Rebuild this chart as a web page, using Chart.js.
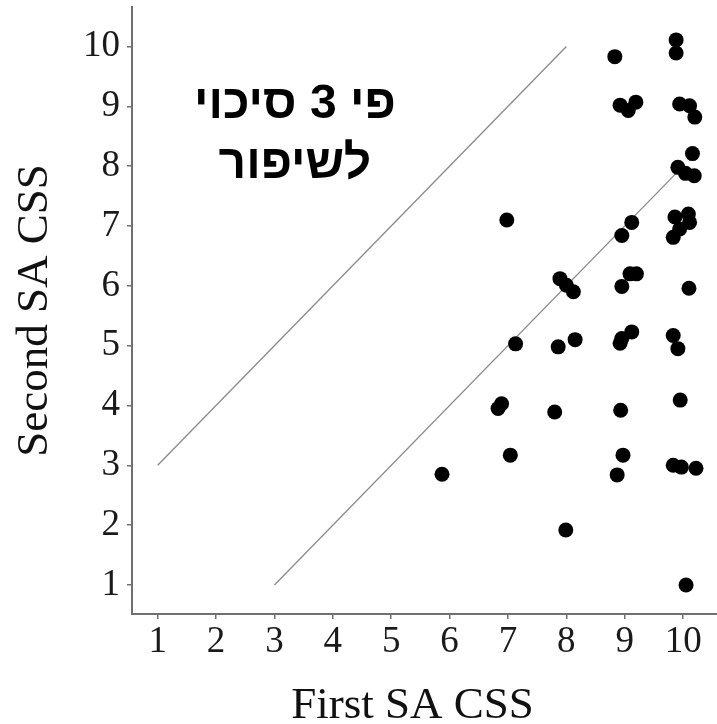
<!DOCTYPE html>
<html>
<head>
<meta charset="utf-8">
<script src="https://cdn.jsdelivr.net/npm/chart.js@4/dist/chart.umd.min.js"></script>
<style>
  html, body { margin: 0; padding: 0; background: #ffffff; }
  #wrap { width: 717px; height: 724px; position: relative; }
</style>
</head>
<body>
<div id="wrap"><canvas id="c"></canvas></div>
<script>
// ---- data ----
const firstSA = [
  5.87, 6.98, 6.83, 6.89, 7.04, 7.13, 7.80, 7.86, 7.99, 7.89,
  8.00, 8.12, 8.15, 8.83, 8.92, 9.06, 9.19, 9.12, 8.95, 9.09,
  9.20, 8.95, 8.95, 9.12, 8.92, 8.93, 8.97, 8.87, 9.88, 9.88,
  9.94, 10.11, 10.20, 10.16, 9.91, 10.04, 10.19, 9.86, 10.09, 10.11,
  9.83, 9.94, 10.10, 9.83, 9.91, 9.95, 9.83, 9.97, 10.22, 10.05
];
const secondSA = [
  2.85, 7.10, 3.95, 4.03, 3.17, 5.03, 3.89, 4.98, 1.92, 6.12,
  6.01, 5.90, 5.10, 9.83, 9.02, 8.93, 9.07, 7.06, 6.84, 6.20,
  6.20, 5.99, 5.12, 5.23, 5.04, 3.92, 3.17, 2.84, 10.11, 9.89,
  9.04, 9.01, 8.82, 8.21, 7.98, 7.88, 7.84, 7.15, 7.20, 7.06,
  6.81, 6.95, 5.96, 5.17, 4.95, 4.09, 3.00, 2.97, 2.95, 1.00
];
const upperLineX = [1, 8];
const upperLineY = [3, 10];
const lowerLineX = [3, 10];
const lowerLineY = [1, 8];
const xTicks = [1, 2, 3, 4, 5, 6, 7, 8, 9, 10];
const yTicks = [1, 2, 3, 4, 5, 6, 7, 8, 9, 10];
const xTitle = "First SA CSS";
const yTitle = "Second SA CSS";
const noteLines = ["פי 3 סיכוי", "לשיפור"];
const noteAnchor = [3.35, 8.8]; // data coords for first-line baseline centre

const toPts = (xs, ys) => xs.map((x, i) => ({ x: x, y: ys[i] }));

const serif = "'Liberation Serif', 'Times New Roman', 'DejaVu Serif', serif";
const axisColor = '#707070';

const textPlugin = {
  id: 'texts',
  afterDraw(chart) {
    const ctx = chart.ctx;
    const xs = chart.scales.x, ys = chart.scales.y;
    const area = chart.chartArea;
    ctx.save();
    // annotation
    const cx = xs.getPixelForValue(noteAnchor[0]);
    const by = ys.getPixelForValue(noteAnchor[1]);
    ctx.fillStyle = '#000';
    ctx.font = "bold 48px 'Liberation Sans', Arial, 'DejaVu Sans', sans-serif";
    ctx.textAlign = 'center';
    ctx.textBaseline = 'alphabetic';
    ctx.direction = 'rtl';
    noteLines.forEach((t, i) => ctx.fillText(t, cx, by + i * 60));
    // x axis title
    ctx.direction = 'ltr';
    ctx.fillStyle = '#111';
    ctx.font = "45px " + serif;
    ctx.textAlign = 'center';
    ctx.textBaseline = 'alphabetic';
    ctx.fillText(xTitle, (area.left + area.right) / 2 - 12, chart.height - 6);
    ctx.restore();
  }
};

new Chart(document.getElementById('c'), {
  type: 'scatter',
  data: {
    datasets: [
      {
        data: toPts(firstSA, secondSA),
        backgroundColor: '#000',
        borderColor: '#000',
        borderWidth: 0,
        pointRadius: 7.5,
        pointHoverRadius: 7.5
      },
      {
        data: toPts(upperLineX, upperLineY),
        showLine: true,
        borderColor: '#8a8a8a',
        borderWidth: 1.3,
        pointRadius: 0,
        fill: false
      },
      {
        data: toPts(lowerLineX, lowerLineY),
        showLine: true,
        borderColor: '#8a8a8a',
        borderWidth: 1.3,
        pointRadius: 0,
        fill: false
      }
    ]
  },
  options: {
    responsive: true,
    maintainAspectRatio: false,
    animation: false,
    layout: { autoPadding: false, padding: { top: 7, right: 0, left: 0, bottom: 0 } },
    plugins: { legend: { display: false }, tooltip: { enabled: false } },
    scales: {
      x: {
        type: 'linear',
        min: 0.56,
        max: 10.58,
        afterBuildTicks(s) { s.ticks = xTicks.map(v => ({ value: v })); },
        afterFit(s) { s.height = 110; s.paddingLeft = 0; s.paddingRight = 0; },
        grid: { display: true, drawOnChartArea: false, drawTicks: true, tickLength: 5, color: axisColor, lineWidth: 1.5 },
        border: { display: true, color: axisColor, width: 2 },
        ticks: { color: '#1a1a1a', font: { family: serif, size: 37 }, padding: 1, maxRotation: 0, autoSkip: false },
        title: { display: false, text: xTitle }
      },
      y: {
        type: 'linear',
        min: 0.515,
        max: 10.66,
        afterBuildTicks(s) { s.ticks = yTicks.map(v => ({ value: v })); },
        afterFit(s) { s.width = 132; s.paddingTop = 0; s.paddingBottom = 0; },
        grid: { display: true, drawOnChartArea: false, drawTicks: true, tickLength: 5, color: axisColor, lineWidth: 1.5 },
        border: { display: true, color: axisColor, width: 2 },
        ticks: { color: '#1a1a1a', font: { family: serif, size: 37 }, padding: 7, autoSkip: false },
        title: { display: true, text: yTitle, color: '#111', font: { family: serif, size: 45, lineHeight: 1.2 }, padding: { top: 8, bottom: 0 } }
      }
    }
  },
  plugins: [textPlugin]
});
</script>
</body>
</html>
